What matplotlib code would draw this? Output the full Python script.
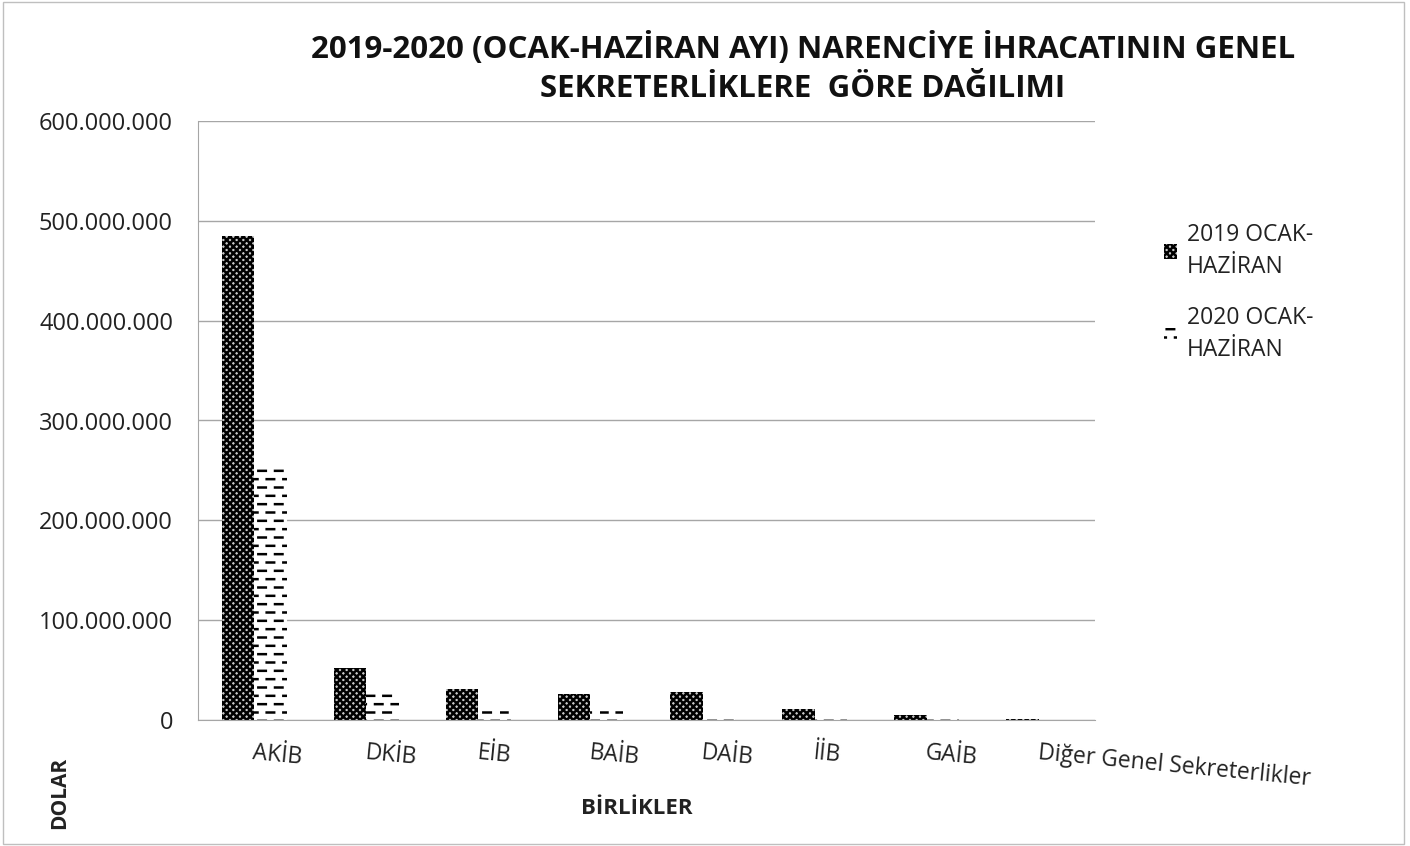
import numpy as np
import matplotlib.pyplot as plt
import matplotlib.hatch as mhatch
from matplotlib.path import Path
from matplotlib.ticker import FuncFormatter
from matplotlib.patches import Rectangle

# Birlikler (kategoriler) ve değerler (USD)
birlikler = ["AKİB", "DKİB", "EİB", "BAİB", "DAİB", "İİB", "GAİB", "Diğer Genel Sekreterlikler"]
ihracat_2019 = [485e6, 52e6, 31e6, 26e6, 28e6, 11e6, 5e6, 1.5e6]
ihracat_2020 = [253e6, 28e6, 12e6, 12e6, 5e6, 4e6, 1e6, 0.5e6]
seri_adlari = ["2019 OCAK-\nHAZİRAN", "2020 OCAK-\nHAZİRAN"]


# Excel benzeri kesik çizgi deseni
class DashHatch(mhatch.HatchPatternBase):
    per_row = 6

    def __init__(self, hatch, density):
        self.num_rows = hatch.count('=') * density
        self.num_vertices = self.num_rows * self.per_row * 2 if self.num_rows else 0

    def set_vertices_and_codes(self, vertices, codes):
        n = self.num_rows
        m = self.per_row
        k = 0
        for i in range(n):
            y = (i + 0.5) / n
            off = 0.0 if i % 2 == 0 else 0.5 / m
            for j in range(m):
                xs = j / m + off
                vertices[k] = (xs, y)
                vertices[k + 1] = (min(xs + 0.45 / m, 1.0), y)
                codes[k] = Path.MOVETO
                codes[k + 1] = Path.LINETO
                k += 2


mhatch._hatch_types.append(DashHatch)

plt.rcParams['font.family'] = ['Open Sans', 'DejaVu Sans']
plt.rcParams['hatch.linewidth'] = 1.8

fig = plt.figure(figsize=(14.1, 8.46), dpi=100)
ax = fig.add_axes([198 / 1410, 1 - 720 / 846, (1095 - 198) / 1410, (720 - 121) / 846])

x = np.arange(len(birlikler))
w = 0.29
ax.bar(x - w / 2, ihracat_2019, w, color='#c8c8c8', edgecolor='black', hatch='xxxxx',
       linewidth=0, label=seri_adlari[0])
ax.bar(x + w / 2, ihracat_2020, w, color='white', edgecolor='black', hatch='==',
       linewidth=0, label=seri_adlari[1])

ax.set_xlim(-0.5, len(birlikler) - 0.5)
ax.set_ylim(0, 600e6)
ax.set_yticks(np.arange(0, 600e6 + 1, 100e6))
ax.yaxis.set_major_formatter(FuncFormatter(lambda v, p: f"{int(v):,}".replace(",", ".")))
ax.tick_params(axis='y', length=0, labelsize=17, pad=18, colors='#222222')
ax.tick_params(axis='x', length=0)
ax.set_xticks(x)
ax.set_xticklabels([])
for xi, lab in zip(x, birlikler):
    ax.text(xi, -21e6, lab, fontsize=16.5, rotation=-5.5, rotation_mode='anchor',
            ha='left', va='top', color='#222222')

ax.grid(axis='y', color='#a6a6a6', linewidth=1)
ax.set_axisbelow(True)
for s in ['top', 'right']:
    ax.spines[s].set_visible(False)
ax.spines['left'].set_color('#a6a6a6')
ax.spines['bottom'].set_color('#a6a6a6')

fig.text(637 / 1410, 1 - 808 / 846, "BİRLİKLER", fontsize=16, fontweight='bold',
         ha='center', va='center', color='#222222')
fig.text(60 / 1410, 1 - 793 / 846, "DOLAR", fontsize=15, fontweight='bold',
         rotation=90, ha='center', va='center', color='#222222')
fig.text(803 / 1410, 1 - 68 / 846,
         "2019-2020 (OCAK-HAZİRAN AYI) NARENCİYE İHRACATININ GENEL\nSEKRETERLİKLERE  GÖRE DAĞILIMI",
         fontsize=22.5, fontweight='bold', ha='center', va='center', linespacing=1.4, color='#111111')

leg = fig.legend(loc='upper left', bbox_to_anchor=(1143 / 1410, 1 - 202 / 846), frameon=False,
                 fontsize=16.5, handlelength=0.6, handleheight=0.6, handletextpad=0.4,
                 labelspacing=1.2, labelcolor='#222222')
for t in leg.get_texts():
    t.set_linespacing(1.45)

fig.patches.append(Rectangle((0.002, 0.002), 0.994, 0.996, transform=fig.transFigure,
                             fill=False, edgecolor='#bfbfbf', linewidth=1))

fig.savefig("out.png", dpi=100)
